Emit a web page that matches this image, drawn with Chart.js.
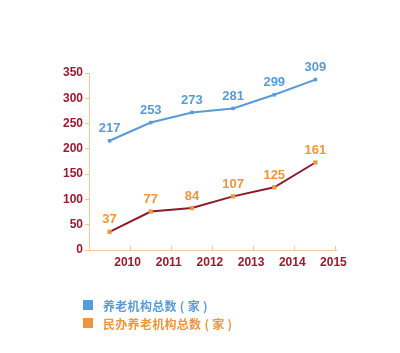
<!DOCTYPE html>
<html>
<head>
<meta charset="utf-8">
<script src="https://cdn.jsdelivr.net/npm/chart.js@4.4.0/dist/chart.umd.min.js"></script>
<style>
  html, body { margin: 0; padding: 0; background: #ffffff; }
  #wrap { position: relative; width: 400px; height: 353px; }
  #legend { position: absolute; left: 83px; top: 296px; font-family: "Noto Sans CJK SC", sans-serif; font-size: 12px; font-weight: bold; }
  .item { display: flex; align-items: center; height: 18px; }
  .box { width: 10px; height: 10px; margin-right: 10px; }
  .item span { letter-spacing: 0.3px; }
</style>
</head>
<body>
<div id="wrap">
  <canvas id="c" width="400" height="353"></canvas>
  <div id="legend"></div>
</div>
<script>
// Categories and tick labels
const years = ['2010', '2011', '2012', '2013', '2014', '2015'];
const yTicks = [0, 50, 100, 150, 200, 250, 300, 350];

const totalValues = [216, 252, 272, 280, 307, 337];
const totalLabels = ['217', '253', '273', '281', '299', '309'];

// Series 2: 民办养老机构总数（家）
const privateValues = [36, 76, 83, 106, 124, 173];
const privateLabels = ['37', '77', '84', '107', '125', '161'];

const seriesNames = ['养老机构总数 ( 家 )', '民办养老机构总数 ( 家 )'];

const BLUE = '#5b9bd5';
const ORANGE = '#ee963b';
const DARKRED = '#8c1a2c';
const AXIS = '#f5c796';
const TICKTXT = '#981b2f';

const valueLabelPlugin = {
  id: 'valueLabels',
  afterDatasetsDraw(chart) {
    const ctx = chart.ctx;
    ctx.save();
    ctx.font = 'bold 13px "Liberation Sans", Arial, sans-serif';
    ctx.textAlign = 'center';
    ctx.textBaseline = 'middle';
    chart.data.datasets.forEach((ds, di) => {
      const meta = chart.getDatasetMeta(di);
      meta.data.forEach((pt, i) => {
        ctx.fillStyle = ds.labelColor;
        ctx.fillText(ds.valueLabels[i], pt.x, pt.y - 12);
      });
    });
    ctx.restore();
  }
};

const chart = new Chart(document.getElementById('c'), {
  type: 'line',
  data: {
    labels: years,
    datasets: [
      {
        label: seriesNames[0],
        data: totalValues,
        valueLabels: totalLabels,
        labelColor: BLUE,
        borderColor: BLUE,
        backgroundColor: BLUE,
        borderWidth: 2,
        pointStyle: 'rect',
        pointRadius: 2.5,
        pointBackgroundColor: BLUE,
        pointBorderWidth: 0,
        tension: 0
      },
      {
        label: seriesNames[1],
        data: privateValues,
        valueLabels: privateLabels,
        labelColor: ORANGE,
        borderColor: DARKRED,
        backgroundColor: ORANGE,
        borderWidth: 2,
        pointStyle: 'rect',
        pointRadius: 3,
        pointBackgroundColor: ORANGE,
        pointBorderWidth: 0,
        tension: 0
      }
    ]
  },
  options: {
    responsive: false,
    animation: false,
    layout: { padding: { left: 0, right: 64, top: 73, bottom: 78 } },
    plugins: { legend: { display: false }, tooltip: { enabled: false } },
    scales: {
      x: {
        type: 'category',
        offset: true,
        grid: { offset: true, drawOnChartArea: false, drawTicks: true, tickLength: -4, color: AXIS, lineWidth: 1 },
        border: { display: true, color: AXIS, width: 1 },
        ticks: {
          color: TICKTXT,
          font: { family: '"Liberation Sans", Arial, sans-serif', size: 12, weight: 'bold' },
          labelOffset: 18,
          padding: 9,
          maxRotation: 0,
          autoSkip: false
        },
        afterFit(scale) { scale.height = 25; }
      },
      y: {
        min: 0,
        max: 350,
        afterBuildTicks(scale) { scale.ticks = yTicks.map(v => ({ value: v })); },
        grid: { drawOnChartArea: false, drawTicks: true, tickLength: 4, color: AXIS, lineWidth: 1 },
        border: { display: true, color: AXIS, width: 1 },
        ticks: {
          color: TICKTXT,
          font: { family: '"Liberation Sans", Arial, sans-serif', size: 12, weight: 'bold' },
          padding: 2
        },
        afterFit(scale) { scale.width = 89; }
      }
    }
  },
  plugins: [valueLabelPlugin]
});

// HTML legend built from the dataset names
const legend = document.getElementById('legend');
chart.data.datasets.forEach(ds => {
  const item = document.createElement('div');
  item.className = 'item';
  const box = document.createElement('div');
  box.className = 'box';
  box.style.background = ds.labelColor;
  const txt = document.createElement('span');
  txt.textContent = ds.label;
  txt.style.color = ds.labelColor;
  item.appendChild(box);
  item.appendChild(txt);
  legend.appendChild(item);
});
</script>
</body>
</html>
